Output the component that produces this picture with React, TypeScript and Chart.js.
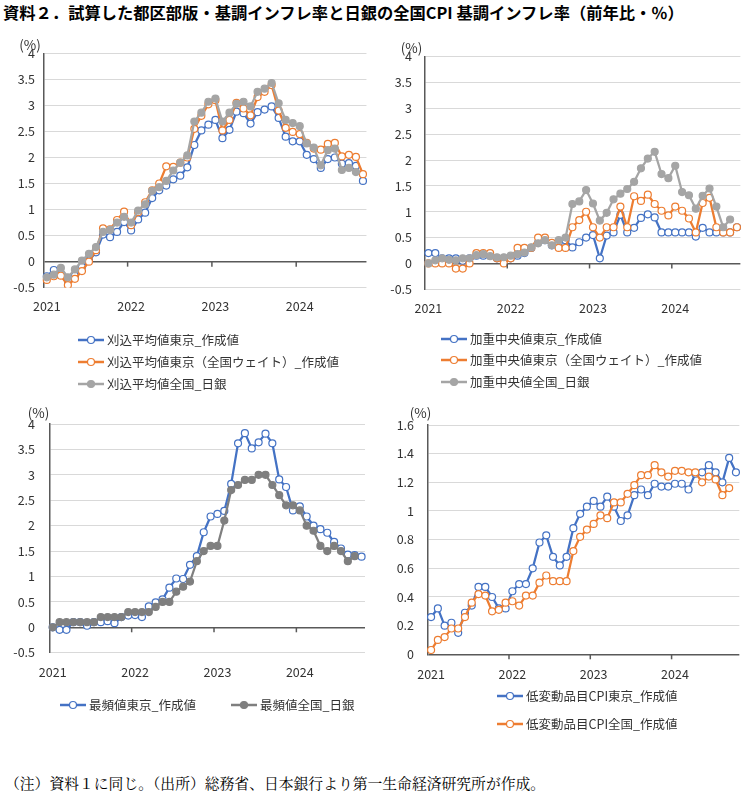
import React, { useEffect, useRef } from "react";
import { Chart, registerables } from "chart.js";

Chart.register(...registerables);

const FONT = '"Noto Sans CJK JP", "Noto Sans", sans-serif';
const TEXT = "#333333";
const AXIS = "#595959";
const GRID = "#d9d9d9";
const BLUE = "#4472C4";
const ORANGE = "#ED7D31";
const GRAY = "#A5A5A5";
const DARKGRAY = "#7F7F7F";

const years = ["2021", "2022", "2023", "2024"];
const monthsInData = 46; // Jan 2021 - Oct 2024
const monthLabels: string[] = [];
for (let i = 0; i < monthsInData; i++) {
  monthLabels.push(`${years[Math.floor(i / 12)]}/${(i % 12) + 1}`);
}

// Panel 1: trimmed mean
const trimTokyo = [-0.28, -0.16, -0.24, -0.36, -0.27, -0.1, 0.02, 0.18, 0.52, 0.47,
  0.57, 0.76, 0.6, 0.81, 0.94, 1.22, 1.37, 1.46, 1.58, 1.65,
  1.81, 2.24, 2.52, 2.63, 2.72, 2.37, 2.53, 2.88, 2.85, 2.65,
  2.87, 2.92, 2.98, 2.76, 2.4, 2.31, 2.31, 2.05, 1.97, 1.8,
  1.97, 2.0, 1.88, 1.89, 1.84, 1.55];
const trimTokyoNatW = [-0.35, -0.28, -0.27, -0.45, -0.33, -0.18, 0.0, 0.22, 0.64, 0.62,
  0.8, 0.96, 0.7, 0.95, 1.14, 1.37, 1.5, 1.83, 1.82, 1.9,
  2.0, 2.55, 2.8, 3.02, 3.1, 2.52, 2.72, 3.05, 2.94, 2.81,
  3.16, 3.26, 3.39, 2.9, 2.57, 2.49, 2.45, 2.28, 2.17, 2.15,
  2.26, 2.28, 2.02, 2.05, 2.01, 1.68];
const trimBOJ = [-0.3, -0.25, -0.12, -0.3, -0.15, 0.02, 0.15, 0.28, 0.57, 0.61,
  0.75, 0.86, 0.75, 0.98, 1.1, 1.36, 1.43, 1.55, 1.75, 1.9,
  2.04, 2.69, 2.86, 3.07, 3.13, 2.69, 2.86, 3.03, 3.07, 2.98,
  3.26, 3.32, 3.43, 3.04, 2.72, 2.66, 2.6, 2.27, 2.19, 1.85,
  2.14, 2.17, 1.76, 1.8, 1.72];

// Panel 2: weighted median
const wmedTokyo = [0.2, 0.2, 0.1, 0.1, 0.1, 0.05, 0.1, 0.15, 0.15, 0.15,
  0.1, 0.1, 0.1, 0.15, 0.2, 0.3, 0.4, 0.45, 0.35, 0.4,
  0.45, 0.31, 0.41, 0.5, 0.55, 0.1, 0.54, 0.6, 0.94, 0.6,
  0.69, 0.88, 0.95, 0.89, 0.6, 0.6, 0.6, 0.6, 0.6, 0.52,
  0.69, 0.6, 0.6, 0.6, 0.6, 0.7];
const wmedTokyoNatW = [0, 0, 0, 0, -0.1, -0.1, 0, 0.2, 0.2, 0.2,
  0.1, 0, 0.1, 0.3, 0.3, 0.3, 0.5, 0.5, 0.4, 0.3,
  0.3, 0.7, 0.84, 1.0, 0.7, 0.5, 0.7, 0.7, 1.1, 0.7,
  1.3, 1.21, 1.33, 1.15, 1.02, 0.93, 1.1, 1.02, 0.87, 0.6,
  1.17, 1.27, 0.7, 0.6, 0.6, 0.7];
const wmedBOJ = [0, 0.06, 0.1, 0.07, 0.06, 0.1, 0.1, 0.16, 0.18, 0.14,
  0.12, 0.12, 0.15, 0.18, 0.21, 0.31, 0.39, 0.45, 0.35, 0.45,
  0.5, 1.15, 1.2, 1.42, 1.16, 0.83, 0.98, 1.24, 1.35, 1.44,
  1.58, 1.84, 2.03, 2.16, 1.73, 1.65, 1.89, 1.38, 1.32, 1.06,
  1.31, 1.45, 1.1, 0.7, 0.85];

// Panel 3: mode
const modeTokyo = [0, -0.05, -0.05, 0.1, 0.1, 0.03, 0.1, 0.1, 0.12, 0.08,
  0.2, 0.23, 0.24, 0.2, 0.41, 0.49, 0.55, 0.78, 0.96, 0.95,
  1.23, 1.4, 1.87, 2.18, 2.23, 2.29, 2.82, 3.62, 3.82, 3.52,
  3.64, 3.81, 3.62, 2.91, 2.76, 2.3, 2.38, 2.18, 2.0, 1.93,
  1.86, 1.68, 1.55, 1.43, 1.42, 1.39];
const modeBOJ = [0, 0.1, 0.1, 0.1, 0.1, 0.1, 0.1, 0.2, 0.2, 0.2,
  0.2, 0.3, 0.3, 0.3, 0.3, 0.4, 0.5, 0.5, 0.7, 0.8,
  0.9, 1.3, 1.5, 1.6, 1.6, 2.1, 2.7, 2.8, 2.9, 2.9,
  3.0, 3.0, 2.8, 2.6, 2.4, 2.4, 2.3, 2.0, 1.9, 1.6,
  1.5, 1.6, 1.5, 1.3, 1.4];

// Panel 4: low-volatility items CPI
const lowVarTokyo = [0.26, 0.32, 0.2, 0.22, 0.15, 0.29, 0.34, 0.47, 0.47, 0.4,
  0.32, 0.32, 0.44, 0.49, 0.49, 0.6, 0.78, 0.83, 0.68, 0.62,
  0.68, 0.88, 0.98, 1.03, 1.07, 1.03, 1.1, 1.03, 0.93, 0.97,
  1.11, 1.15, 1.11, 1.19, 1.17, 1.17, 1.19, 1.19, 1.15, 1.26,
  1.27, 1.32, 1.27, 1.2, 1.37, 1.27];
const lowVarNational = [0.03, 0.1, 0.12, 0.18, 0.18, 0.26, 0.36, 0.42, 0.41, 0.3,
  0.31, 0.36, 0.37, 0.34, 0.41, 0.41, 0.5, 0.55, 0.51, 0.51,
  0.51, 0.72, 0.82, 0.87, 0.91, 0.97, 0.95, 1.06, 1.06, 1.12,
  1.18, 1.25, 1.25, 1.32, 1.27, 1.24, 1.28, 1.28, 1.27, 1.27,
  1.2, 1.24, 1.22, 1.11, 1.16];

const TITLE = "資料２．試算した都区部版・基調インフレ率と日銀の全国CPI 基調インフレ率（前年比・％）";
const FOOTER = "（注）資料１に同じ。（出所）総務省、日本銀行より第一生命経済研究所が作成。";

type Series = { label: string; data: number[]; color: string; filled: boolean };
type Panel = {
  left: number; top: number; width: number; height: number;
  area: { l: number; t: number; r: number; b: number };
  yMin: number; yMax: number; yStep: number;
  yGap: number; xGap: number;
  unit: { x: number; y: number };
  legend: { x: number; y: number }[];
  series: Series[];
};

const XH = 30;

const panels: Panel[] = [
  {
    left: 0, top: 30, width: 374, height: 370,
    area: { l: 43.3, t: 23.3, r: 371.7, b: 257.7 },
    yMin: -0.5, yMax: 4, yStep: 0.5, yGap: 8.3, xGap: 11,
    unit: { x: 30, y: 15 },
    legend: [{ x: 78, y: 310 }, { x: 78, y: 332 }, { x: 78, y: 354 }],
    series: [
      { label: "刈込平均値東京_作成値", data: trimTokyo, color: BLUE, filled: false },
      { label: "刈込平均値東京（全国ウェイト）_作成値", data: trimTokyoNatW, color: ORANGE, filled: false },
      { label: "刈込平均値全国_日銀", data: trimBOJ, color: GRAY, filled: true },
    ],
  },
  {
    left: 374, top: 30, width: 374, height: 370,
    area: { l: 51, t: 26.7, r: 371, b: 259.3 },
    yMin: -0.5, yMax: 4, yStep: 0.5, yGap: 13, xGap: 11,
    unit: { x: 37.5, y: 18 },
    legend: [{ x: 67, y: 309 }, { x: 67, y: 330 }, { x: 67, y: 352 }],
    series: [
      { label: "加重中央値東京_作成値", data: wmedTokyo, color: BLUE, filled: false },
      { label: "加重中央値東京（全国ウェイト）_作成値", data: wmedTokyoNatW, color: ORANGE, filled: false },
      { label: "加重中央値全国_日銀", data: wmedBOJ, color: GRAY, filled: true },
    ],
  },
  {
    left: 0, top: 400, width: 374, height: 330,
    area: { l: 49.3, t: 24, r: 365, b: 252.7 },
    yMin: -0.5, yMax: 4, yStep: 0.5, yGap: 14.3, xGap: 12,
    unit: { x: 38.5, y: 13 },
    legend: [{ x: 60, y: 305 }, { x: 231, y: 305 }],
    series: [
      { label: "最頻値東京_作成値", data: modeTokyo, color: BLUE, filled: false },
      { label: "最頻値全国_日銀", data: modeBOJ, color: DARKGRAY, filled: true },
    ],
  },
  {
    left: 374, top: 400, width: 374, height: 360,
    area: { l: 53.7, t: 25, r: 369, b: 254.3 },
    yMin: 0, yMax: 1.6, yStep: 0.2, yGap: 13.7, xGap: 12,
    unit: { x: 46.5, y: 13 },
    legend: [{ x: 123, y: 296 }, { x: 123, y: 324 }],
    series: [
      { label: "低変動品目CPI東京_作成値", data: lowVarTokyo, color: BLUE, filled: false },
      { label: "低変動品目CPI全国_作成値", data: lowVarNational, color: ORANGE, filled: false },
    ],
  },
];

const decorPlugin = {
  id: "panelDecor",
  afterDraw(chart: any, _args: any, opts: any) {
    const { ctx, scales } = chart;
    const xs = scales.x;
    const ys = scales.y;
    const y0 = ys.getPixelForValue(0);
    const step = xs.getPixelForValue(1) - xs.getPixelForValue(0);
    ctx.save();
    // year tick marks on the zero line
    ctx.strokeStyle = AXIS;
    ctx.lineWidth = 1.5;
    for (let k = 12; k < chart.data.labels.length; k += 12) {
      const px = xs.getPixelForValue(k) - step / 2;
      ctx.beginPath();
      ctx.moveTo(px, y0);
      ctx.lineTo(px, y0 + 5);
      ctx.stroke();
    }
    // unit label
    ctx.fillStyle = TEXT;
    ctx.font = `13.5px ${FONT}`;
    ctx.textAlign = "center";
    ctx.textBaseline = "middle";
    ctx.fillText("(%)", opts.unit.x, opts.unit.y);
    // legend
    ctx.font = `12.5px ${FONT}`;
    ctx.textAlign = "left";
    chart.data.datasets.forEach((ds: any, i: number) => {
      const p = opts.legend[i];
      if (!p) return;
      ctx.strokeStyle = ds.borderColor;
      ctx.lineWidth = 2.5;
      ctx.beginPath();
      ctx.moveTo(p.x, p.y);
      ctx.lineTo(p.x + 26, p.y);
      ctx.stroke();
      ctx.beginPath();
      ctx.arc(p.x + 13, p.y, 3.5, 0, Math.PI * 2);
      ctx.fillStyle = ds.pointBackgroundColor;
      ctx.fill();
      ctx.lineWidth = 1.2;
      ctx.strokeStyle = ds.pointBorderColor;
      ctx.stroke();
      ctx.fillStyle = TEXT;
      ctx.fillText(ds.label, p.x + 29, p.y);
    });
    ctx.restore();
  },
};

function fmt(v: number): string {
  return String(Math.round(v * 10) / 10);
}

function PanelChart({ p }: { p: Panel }) {
  const ref = useRef<HTMLCanvasElement | null>(null);
  useEffect(() => {
    if (!ref.current) return;
    const n = p.series.length;
    const chart = new Chart(ref.current, {
      type: "line",
      data: {
        labels: monthLabels,
        datasets: p.series.map((s, i) => ({
          label: s.label,
          data: s.data,
          borderColor: s.color,
          backgroundColor: s.color,
          borderWidth: 2.25,
          pointRadius: 3.5,
          pointBorderWidth: 1.2,
          pointBackgroundColor: s.filled ? s.color : "#ffffff",
          pointBorderColor: s.color,
          tension: 0,
          order: n - i,
        })),
      },
      options: {
        animation: false,
        responsive: false,
        maintainAspectRatio: false,
        layout: {
          padding: {
            left: 0,
            top: p.area.t,
            right: p.width - p.area.r,
            bottom: p.height - p.area.b - XH,
          },
        },
        plugins: {
          legend: { display: false },
          tooltip: { enabled: false },
          panelDecor: { unit: p.unit, legend: p.legend },
        } as any,
        scales: {
          x: {
            type: "category",
            offset: true,
            grid: { display: false, drawTicks: false },
            border: { display: false },
            ticks: {
              autoSkip: false,
              maxRotation: 0,
              minRotation: 0,
              padding: p.xGap,
              color: TEXT,
              font: { family: FONT, size: 12.5 },
              callback: (_v: any, i: number) => (i % 12 === 0 ? years[i / 12] : ""),
            },
            afterFit: (s: any) => { s.height = XH; },
          },
          y: {
            min: p.yMin,
            max: p.yMax,
            ticks: {
              stepSize: p.yStep,
              padding: p.yGap,
              color: TEXT,
              font: { family: FONT, size: 12.5 },
              callback: (v: any) => fmt(Number(v)),
            },
            grid: {
              drawTicks: false,
              color: (c: any) => (Math.abs(c.tick.value) < 1e-9 ? AXIS : GRID),
              lineWidth: (c: any) => (Math.abs(c.tick.value) < 1e-9 ? 1.5 : 1),
            },
            border: { display: true, color: AXIS, width: 1.5 },
            afterFit: (s: any) => { s.width = p.area.l; },
          },
        },
      },
      plugins: [decorPlugin],
    });
    return () => chart.destroy();
  }, [p]);
  return (
    <canvas
      ref={ref}
      width={p.width}
      height={p.height}
      style={{ position: "absolute", left: p.left, top: p.top, width: p.width, height: p.height }}
    />
  );
}

export default function App() {
  return (
    <div style={{ position: "absolute", left: 0, top: 0, width: 748, height: 800, background: "#ffffff", overflow: "hidden" }}>
      <div
        style={{
          position: "absolute", left: 3, top: 3, whiteSpace: "nowrap",
          fontFamily: FONT, fontWeight: "bold", fontSize: 16.3, lineHeight: "18px", color: "#000",
        }}
      >
        {TITLE}
      </div>
      {panels.map((p, i) => (
        <PanelChart key={i} p={p} />
      ))}
      <div
        style={{
          position: "absolute", left: 5, top: 774, whiteSpace: "nowrap",
          fontFamily: '"Noto Serif CJK JP", serif', fontSize: 14.8, lineHeight: "18px", color: "#000",
        }}
      >
        {FOOTER}
      </div>
    </div>
  );
}
